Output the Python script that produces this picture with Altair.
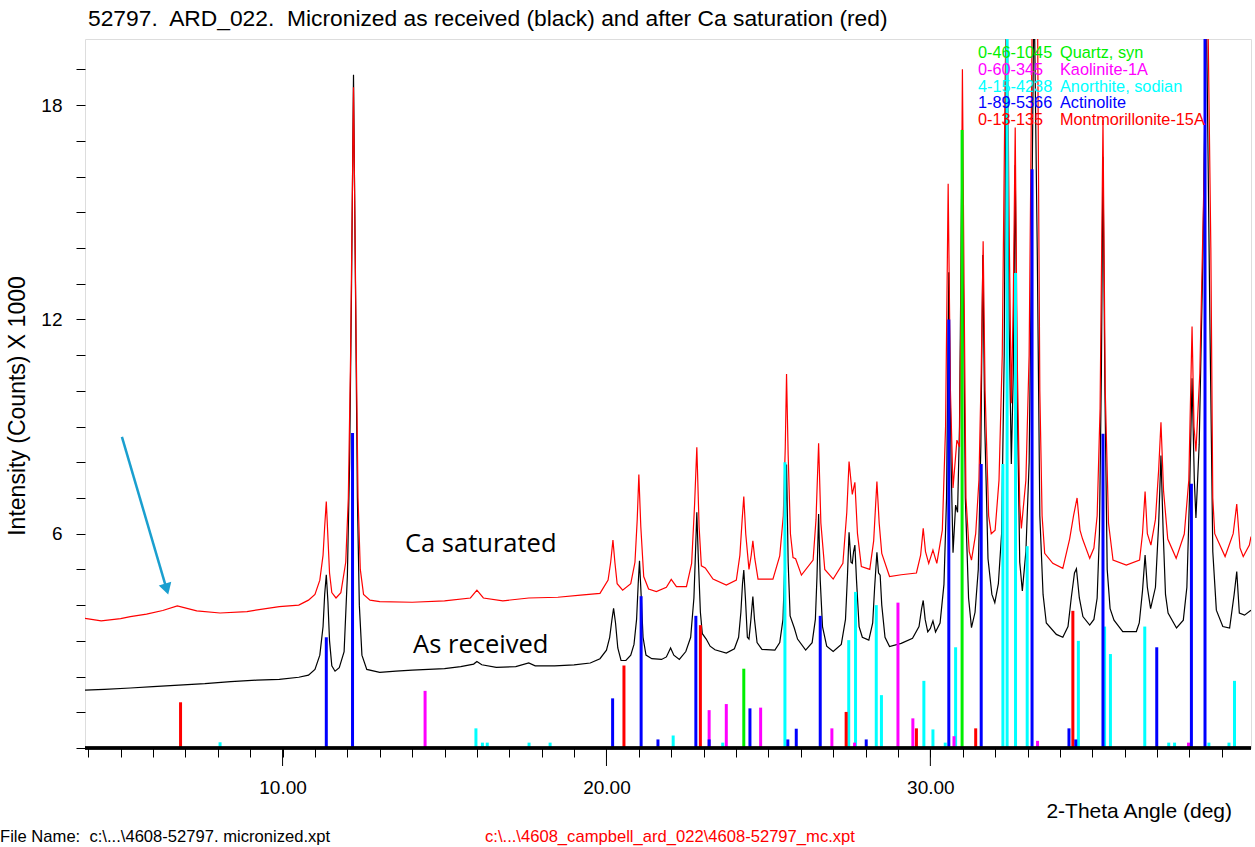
import altair as alt
import pandas as pd

# ---------------- data ----------------
BLACK_X = [3.9, 4.5, 5.3, 6.0, 6.8, 7.6, 8.4, 9.2, 9.9, 10.5, 10.8, 11.0, 11.15, 11.25, 11.3, 11.35, 11.4, 11.45, 11.52, 11.62,
           11.75, 11.9, 12.0, 12.07, 12.13, 12.19, 12.25, 12.31, 12.37, 12.45, 12.6, 13.0, 13.5, 14.0, 14.5, 15.0, 15.5, 15.9, 16.0, 16.15,
           16.6, 17.2, 17.6, 17.8, 18.4, 19.0, 19.5, 19.8, 20.0, 20.1, 20.17, 20.22, 20.28, 20.35, 20.45, 20.6, 20.75, 20.85, 20.93, 20.98,
           21.02, 21.07, 21.13, 21.22, 21.4, 21.7, 21.85, 21.98, 22.08, 22.25, 22.45, 22.6, 22.7, 22.75, 22.79, 22.84, 22.9, 22.96, 23.08, 23.2,
           23.35, 23.7, 23.95, 24.08, 24.15, 24.2, 24.24, 24.29, 24.35, 24.4, 24.46, 24.52, 24.57, 24.65, 24.8, 25.2, 25.35, 25.45, 25.5, 25.56,
           25.61, 25.67, 25.8, 25.9, 26.15, 26.35, 26.45, 26.5, 26.55, 26.6, 26.67, 26.8, 27.0, 27.25, 27.38, 27.44, 27.49, 27.55, 27.59, 27.63,
           27.67, 27.72, 27.8, 27.9, 28.1, 28.22, 28.28, 28.35, 28.4, 28.45, 28.5, 28.6, 28.74, 29.1, 29.45, 29.65, 29.73, 29.78, 29.84, 29.92,
           30.0, 30.08, 30.16, 30.3, 30.42, 30.5, 30.57, 30.64, 30.7, 30.78, 30.84, 30.9, 30.95, 30.98, 31.02, 31.08, 31.18, 31.27, 31.38, 31.48,
           31.56, 31.62, 31.68, 31.78, 31.9, 31.99, 32.1, 32.2, 32.28, 32.35, 32.43, 32.5, 32.56, 32.62, 32.68, 32.76, 32.84, 32.95, 33.05, 33.12,
           33.2, 33.3, 33.38, 33.48, 33.58, 33.89, 34.09, 34.25, 34.35, 34.45, 34.51, 34.6, 34.71, 34.92, 35.05, 35.15, 35.22, 35.28, 35.33, 35.39,
           35.46, 35.55, 35.67, 35.94, 36.36, 36.45, 36.55, 36.63, 36.7, 36.8, 36.95, 37.05, 37.12, 37.19, 37.26, 37.34, 37.6, 37.81, 37.92, 38.0,
           38.08, 38.15, 38.2, 38.3, 38.42, 38.52, 38.63, 38.72, 38.83, 39.03, 39.24, 39.38, 39.46, 39.54, 39.7, 39.9]
BLACK_Y = [1.62, 1.64, 1.68, 1.72, 1.76, 1.80, 1.86, 1.90, 1.92, 1.98, 2.04, 2.2, 2.6, 3.4, 4.3, 4.85, 4.1, 3.0, 2.3, 2.15,
           2.25, 2.7, 4.8, 8.0, 13.0, 18.85, 13.0, 7.0, 4.0, 2.6, 2.2, 2.12, 2.15, 2.18, 2.2, 2.22, 2.28, 2.35, 2.42, 2.33,
           2.26, 2.28, 2.38, 2.3, 2.3, 2.33, 2.38, 2.5, 2.74, 3.1, 3.6, 3.91, 3.5, 2.8, 2.45, 2.45, 2.6, 2.9, 3.6, 4.6,
           5.24, 4.3, 3.1, 2.6, 2.5, 2.48, 2.55, 2.8, 2.6, 2.48, 2.7, 3.1, 4.2, 5.5, 6.6, 5.2, 3.8, 3.2, 3.05, 2.85,
           2.75, 2.66, 2.78, 3.1, 3.8, 4.6, 4.98, 4.2, 3.1, 3.05, 3.6, 4.24, 3.6, 2.95, 2.76, 2.74, 2.95, 3.6, 5.0, 7.94,
           5.2, 3.7, 3.36, 3.05, 2.74, 2.95, 3.6, 4.8, 6.55, 4.7, 3.4, 2.85, 2.7, 2.9, 3.6, 4.8, 6.04, 5.2, 5.17, 5.5,
           5.68, 4.7, 3.4, 3.1, 3.02, 3.5, 4.5, 5.48, 4.9, 4.84, 4.0, 3.1, 2.84, 2.93, 3.07, 3.4, 3.9, 4.13, 3.6, 3.25,
           3.35, 3.56, 3.25, 3.5, 4.58, 7.0, 13.32, 8.0, 5.47, 6.8, 6.6, 9.0, 14.0, 17.31, 13.0, 7.0, 4.2, 3.37, 3.8, 5.0,
           8.5, 13.8, 9.0, 5.3, 4.3, 4.07, 4.6, 6.0, 11.0, 21.5, 12.0, 7.95, 10.5, 16.32, 10.0, 5.2, 4.4, 5.5, 8.0, 13.5,
           21.5, 14.0, 6.5, 4.3, 3.5, 3.18, 3.1, 3.4, 4.2, 4.9, 5.02, 4.2, 3.68, 3.44, 3.6, 4.2, 6.0, 10.5, 16.55, 10.0,
           5.0, 3.9, 3.58, 3.26, 3.26, 3.5, 4.4, 5.4, 4.5, 3.9, 4.5, 6.3, 8.19, 6.0, 4.3, 3.78, 3.36, 3.58, 4.5, 7.0,
           10.35, 7.5, 6.44, 8.5, 14.0, 21.0, 12.0, 5.5, 3.86, 3.4, 3.36, 4.3, 4.94, 3.78, 3.72, 3.86]

RED_X = [3.9, 4.4, 5.0, 5.3, 5.8, 6.3, 6.75, 7.35, 8.07, 8.9, 9.9, 10.5, 10.8, 11.0, 11.15, 11.25, 11.3, 11.35, 11.4, 11.45,
         11.52, 11.65, 11.8, 11.95, 12.03, 12.1, 12.19, 12.27, 12.33, 12.4, 12.5, 12.7, 13.0, 14.0, 15.0, 15.8, 16.0, 16.2, 16.8, 17.6,
         18.5, 19.2, 19.8, 20.05, 20.13, 20.2, 20.26, 20.33, 20.5, 20.75, 20.88, 20.95, 21.0, 21.06, 21.15, 21.3, 21.54, 21.85, 22.0, 22.16,
         22.47, 22.63, 22.72, 22.79, 22.86, 22.93, 23.05, 23.29, 23.7, 24.01, 24.12, 24.19, 24.24, 24.3, 24.4, 24.47, 24.52, 24.58, 24.68, 25.14,
         25.35, 25.46, 25.52, 25.56, 25.61, 25.68, 25.76, 25.84, 26.02, 26.38, 26.47, 26.55, 26.62, 26.74, 27.0, 27.3, 27.42, 27.49, 27.59, 27.67,
         27.75, 27.87, 28.13, 28.25, 28.35, 28.42, 28.5, 28.74, 29.1, 29.57, 29.7, 29.78, 29.85, 29.95, 30.08, 30.2, 30.37, 30.47, 30.55, 30.62,
         30.7, 30.82, 30.9, 30.94, 30.99, 31.04, 31.1, 31.2, 31.27, 31.4, 31.5, 31.57, 31.63, 31.69, 31.8, 31.88, 32.0, 32.12, 32.22, 32.3,
         32.36, 32.44, 32.5, 32.56, 32.62, 32.68, 32.76, 32.81, 32.95, 33.05, 33.15, 33.3, 33.38, 33.45, 33.53, 33.78, 34.09, 34.3, 34.42, 34.53,
         34.62, 34.7, 34.92, 35.05, 35.15, 35.24, 35.33, 35.4, 35.5, 35.64, 36.05, 36.46, 36.55, 36.63, 36.7, 36.81, 36.95, 37.05, 37.12, 37.2,
         37.33, 37.59, 37.84, 37.98, 38.08, 38.14, 38.2, 38.32, 38.45, 38.55, 38.66, 38.72, 38.78, 39.1, 39.35, 39.46, 39.56, 39.66, 39.85, 39.9]
RED_Y = [3.63, 3.56, 3.62, 3.68, 3.75, 3.85, 3.98, 3.84, 3.78, 3.82, 3.96, 4.0, 4.14, 4.3, 4.7, 5.4, 6.2, 6.9, 5.9, 4.9,
         4.35, 4.2, 4.35, 5.2, 7.0, 11.0, 18.5, 11.5, 7.0, 5.0, 4.3, 4.14, 4.1, 4.08, 4.12, 4.2, 4.42, 4.2, 4.12, 4.2,
         4.22, 4.28, 4.33, 4.7, 5.2, 5.82, 5.2, 4.6, 4.42, 4.6, 5.2, 6.4, 7.66, 6.2, 4.8, 4.45, 4.38, 4.5, 4.72, 4.52,
         4.52, 5.17, 6.8, 8.42, 6.2, 5.1, 5.04, 4.73, 4.56, 4.7, 5.4, 6.4, 7.04, 6.0, 5.0, 5.4, 5.8, 5.3, 4.73, 4.73,
         5.38, 6.5, 8.4, 10.47, 8.2, 6.0, 5.33, 5.3, 4.84, 5.26, 6.4, 8.53, 6.3, 5.0, 4.73, 5.17, 6.6, 8.02, 7.1, 7.44,
         6.0, 5.08, 5.0, 5.8, 7.46, 6.3, 5.45, 4.8, 4.85, 4.9, 5.4, 6.15, 5.5, 5.17, 5.54, 5.17, 6.1, 9.0, 15.8, 10.0,
         7.28, 8.62, 8.43, 12.0, 19.0, 13.0, 7.0, 5.5, 5.26, 6.0, 7.5, 10.5, 14.19, 10.0, 6.5, 6.0, 6.1, 7.5, 11.0, 18.0,
         22.0, 14.0, 9.65, 12.5, 17.37, 11.0, 6.8, 6.15, 7.5, 11.0, 21.0, 22.0, 10.0, 6.5, 5.45, 5.17, 5.03, 5.85, 6.5, 7.0,
         6.1, 5.85, 5.31, 5.6, 6.5, 9.5, 17.58, 10.0, 6.3, 5.26, 5.12, 5.26, 6.0, 7.18, 6.0, 5.68, 6.4, 7.8, 9.12, 7.2,
         5.85, 5.31, 5.99, 7.5, 11.8, 9.0, 8.3, 10.5, 16.0, 22.0, 14.0, 7.0, 6.0, 5.36, 6.0, 6.83, 5.6, 5.36, 5.68, 5.92]

# reference patterns (stick positions in deg 2-theta, heights in counts x 1000)
QUARTZ_X = [24.24, 30.98]
QUARTZ_H = [2.22, 17.3]
KAOLINITE_X = [14.4, 23.17, 23.7, 24.76, 26.96, 27.66, 29.0, 29.46, 30.73, 33.31, 37.97]
KAOLINITE_H = [1.6, 1.06, 1.23, 1.13, 0.55, 0.15, 4.07, 0.83, 0.33, 0.2, 0.15]
ANORTHITE_X = [8.07, 15.97, 16.17, 16.32, 17.61, 18.26, 22.06, 23.59, 25.51, 27.48, 27.69, 28.33, 28.49, 29.8, 30.08,
               30.46, 30.78, 32.24, 32.37, 32.63, 32.99, 34.57, 35.38, 35.56, 36.62, 37.36, 37.54, 38.6, 39.22, 39.39]
ANORTHITE_H = [0.16, 0.55, 0.15, 0.15, 0.15, 0.15, 0.35, 0.15, 8.0, 3.02, 4.37, 4.0, 1.48, 1.88, 0.52,
               0.15, 2.82, 7.95, 20.0, 13.3, 5.65, 3.0, 3.4, 2.63, 3.4, 0.15, 0.15, 0.15, 0.15, 1.88]
ACTINOLITE_X = [11.35, 12.16, 20.19, 21.07, 21.59, 22.76, 23.17, 24.43, 25.6, 25.86, 26.6, 28.02, 30.57, 31.57, 33.14,
                34.28, 34.49, 35.33, 36.99, 38.06, 38.48]
ACTINOLITE_H = [3.1, 8.82, 1.39, 4.25, 0.24, 3.7, 0.24, 1.11, 0.24, 0.54, 3.7, 0.24, 12.0, 7.95, 16.2,
                0.55, 0.24, 8.8, 2.82, 7.4, 20.0]
MONTMOR_X = [6.85, 20.54, 22.9, 27.4, 29.57, 31.4, 34.4]
MONTMOR_H = [1.28, 2.31, 3.44, 1.01, 0.55, 0.55, 3.84]

LEGEND_CODES = ["0-46-1045", "0-60-345", "4-15-4238", "1-89-5366", "0-13-135"]
LEGEND_NAMES = ["Quartz, syn", "Kaolinite-1A", "Anorthite, sodian", "Actinolite", "Montmorillonite-15A"]
LEGEND_COLORS = ["#00f000", "#ff00ff", "#00ffff", "#0000ff", "#ff0000"]

X_TICKS = list(range(4, 40))
X_MAJOR = [10, 20, 30]
Y_TICKS = list(range(0, 20))

NB = "\u00a0"
TITLE = "52797." + NB + " ARD_022." + NB + " Micronized as received (black) and after Ca saturation (red)"
Y_TITLE = "Intensity (Counts) X 1000"
X_TITLE = "2-Theta Angle (deg)"
FOOT_LEFT = "File Name:" + NB + " c:\\...\\4608-52797. micronized.xpt"
FOOT_RIGHT = "c:\\...\\4608_campbell_ard_022\\4608-52797_mc.xpt"
ANNOT_TEXT = ["Ca saturated", "As received"]
ANNOT_X = [13.78, 14.03]
ANNOT_Y = [5.71, 2.88]
ARROW_X = [5.04, 6.42]
ARROW_Y = [8.71, 4.45]

# ---------------- chart ----------------
W, H = 1166, 709
FONT = "Liberation Sans"
xs = alt.Scale(domain=[3.9, 39.9], nice=False, zero=False)
ys = alt.Scale(domain=[0, 19.85], nice=False, zero=False)

black_df = pd.DataFrame({"x": BLACK_X, "y": BLACK_Y})
red_df = pd.DataFrame({"x": RED_X, "y": RED_Y})

rows = []
for xs_, hs_, col in [(ANORTHITE_X, ANORTHITE_H, LEGEND_COLORS[2]),
                      (KAOLINITE_X, KAOLINITE_H, LEGEND_COLORS[1]),
                      (MONTMOR_X, MONTMOR_H, LEGEND_COLORS[4]),
                      (ACTINOLITE_X, ACTINOLITE_H, LEGEND_COLORS[3]),
                      (QUARTZ_X, QUARTZ_H, LEGEND_COLORS[0])]:
    for a, b in zip(xs_, hs_):
        rows.append({"x": a, "y0": 0.0, "h": b, "color": col})
stick_df = pd.DataFrame(rows)

XAX = alt.Axis(values=X_TICKS, tickSize=9, tickColor="black", tickWidth=1,
               labelExpr="datum.value % 10 == 0 ? format(datum.value, '.2f') : ''",
               labelFontSize=19, labelFont=FONT, labelColor="black", labelPadding=21,
               labelOverlap=False, labelFlush=False, domain=False, grid=False, title=None)
YAX = alt.Axis(values=Y_TICKS, tickSize=9, tickColor="black", tickWidth=1,
               labelExpr="datum.value % 6 == 0 && datum.value > 0 ? datum.value : ''",
               labelFontSize=19, labelFont=FONT, labelColor="black", labelPadding=14,
               labelOverlap=False, labelFlush=False, domain=False, grid=False, title=None)

def X(f):
    return alt.X(f, scale=xs, axis=XAX)

def Y(f):
    return alt.Y(f, scale=ys, axis=YAX)

black_line = alt.Chart(black_df).mark_line(color="black", strokeWidth=1.2, clip=True).encode(
    x=X("x:Q"), y=Y("y:Q"))
red_line = alt.Chart(red_df).mark_line(color="#ff0000", strokeWidth=1.2, clip=True).encode(
    x=X("x:Q"), y=Y("y:Q"))
sticks = alt.Chart(stick_df).mark_rule(strokeWidth=3, clip=True).encode(
    x=X("x:Q"), y=Y("y0:Q"), y2="h:Q",
    color=alt.Color("color:N", scale=None, legend=None))

major_df = pd.DataFrame({"x": X_MAJOR})
major_ticks = alt.Chart(major_df).mark_rule(color="black", strokeWidth=1).encode(
    x=X("x:Q"), y=alt.value(H), y2=alt.value(H + 18))
bottom_line = alt.Chart(major_df).mark_rule(color="black", strokeWidth=3).encode(
    x=alt.value(0), x2=alt.value(W), y=alt.value(H))

annot_df = pd.DataFrame({"t": ANNOT_TEXT, "x": ANNOT_X, "y": ANNOT_Y})
annots = alt.Chart(annot_df).mark_text(align="left", baseline="middle", font="Open Sans", fontSize=25.5,
                                       color="black").encode(
    x=X("x:Q"), y=Y("y:Q"), text="t:N")

arrow_df = pd.DataFrame({"x": [ARROW_X[0]], "y": [ARROW_Y[0]], "x2": [ARROW_X[1]], "y2": [ARROW_Y[1]]})
arrow_line = alt.Chart(arrow_df).mark_rule(color="#1a9fcf", strokeWidth=2.5).encode(
    x=X("x:Q"), y=Y("y:Q"), x2="x2:Q", y2="y2:Q")
head_df = pd.DataFrame({"x": [ARROW_X[1]], "y": [ARROW_Y[1]]})
arrow_head = alt.Chart(head_df).mark_point(shape="triangle-down", filled=True, size=170, angle=343.5,
                                           color="#1a9fcf", opacity=1).encode(
    x=X("x:Q"), y=Y("y:Q"))

def label(text, px, py, size, align="left", color="black", angle=0, font=FONT):
    d = pd.DataFrame({"t": [text]})
    kw = dict(align=align, baseline="middle", font=font, fontSize=size, color=color)
    if angle:
        kw["angle"] = angle
    return alt.Chart(d).mark_text(**kw).encode(x=alt.value(px), y=alt.value(py), text="t:N")

legend_layers = []
for i, (code, name, col) in enumerate(zip(LEGEND_CODES, LEGEND_NAMES, LEGEND_COLORS)):
    py = 14.3 + 16.7 * i
    legend_layers.append(label(code, 893, py, 16.3, color=col))
    legend_layers.append(label(name, 975, py, 16.3, color=col))

title_t = label(TITLE, 3, -20, 22.8)
ytitle_t = label(Y_TITLE, -67, 367, 23, align="center", angle=270)
xtitle_t = label(X_TITLE, 1147, 773, 21, align="right")
foot_l = label(FOOT_LEFT, -85, 798, 16.6)
foot_r = label(FOOT_RIGHT, 400, 798, 16.6, color="#ff0000")

chart = alt.layer(
    black_line, red_line, sticks, major_ticks, bottom_line,
    annots, arrow_line, arrow_head, *legend_layers,
    title_t, ytitle_t, xtitle_t, foot_l, foot_r,
).properties(
    width=W, height=H,
    autosize=alt.AutoSizeParams(type="none"),
    padding={"left": 85, "top": 39, "right": 4, "bottom": 99},
).configure_view(stroke="black", strokeWidth=2).configure(background="white")

chart.save("out.html", embed_options={"renderer": "svg", "actions": False})
